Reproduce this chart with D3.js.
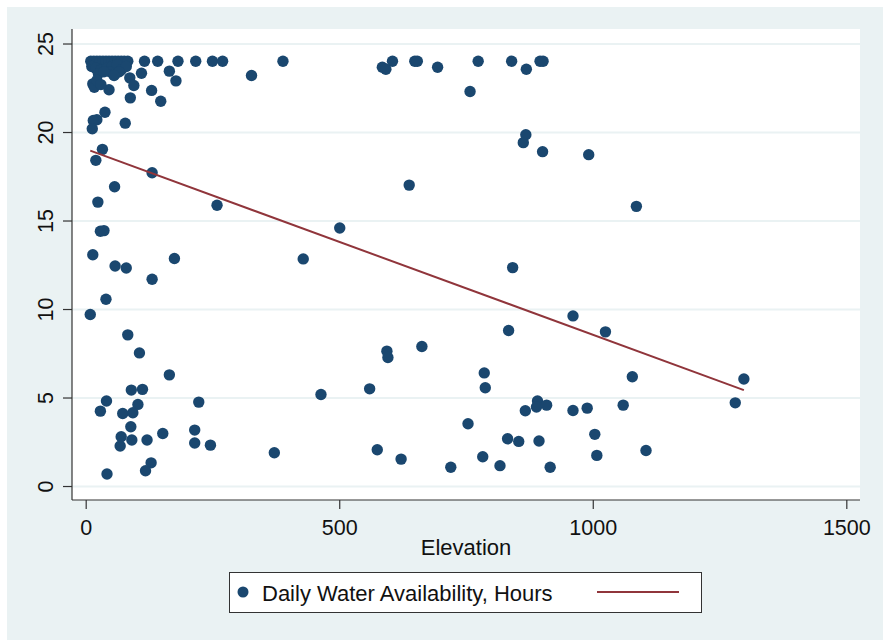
<!DOCTYPE html>
<html>
<head>
<meta charset="utf-8">
<script src="https://cdn.jsdelivr.net/npm/d3@7"></script>
<style>
  html, body { margin: 0; padding: 0; background: #fff; }
  svg { display: block; }
</style>
</head>
<body>
<div id="chart"></div>
<script>
// Elevation (x) and daily water availability in hours (y)
const elevation = [
  10, 16, 22, 28, 34, 40, 46, 52, 58, 64, 70, 76, 83,
  12, 20, 30, 42, 52, 62, 70, 80, 25, 48, 58, 66, 36,
  116, 142, 182, 217, 250, 270, 389, 605, 649, 654, 774, 840, 896, 902,
  585, 592, 694, 758, 869, 868, 863, 901, 992, 638, 1086, 501, 429, 842,
  961, 834, 1025, 594, 596, 663, 786, 788, 1078, 1298, 464, 560,
  867, 891, 889, 909, 961, 989, 1060, 1281, 754, 832, 854, 894, 1004,
  575, 622, 720, 783, 817, 916, 1008, 1105, 372,
  327, 165, 178, 110, 87, 95, 130, 148, 88, 46, 56, 14, 17, 22, 30,
  38, 22, 15, 13, 78, 33, 20, 131, 57, 24, 29, 36, 14, 58, 80, 175,
  131, 40, 9, 259, 83, 106, 165, 90, 112, 41, 29, 103, 73, 93, 89,
  70, 68, 91, 121, 152, 223, 215, 215, 246, 129, 118, 42
];
const hours = [
  24, 24, 24, 24, 24, 24, 24, 24, 24, 24, 24, 24, 24,
  23.7, 23.6, 23.5, 23.6, 23.7, 23.8, 23.5, 23.7, 23.3, 23.4, 23.3, 23.4, 23.4,
  24, 24, 24, 24, 24, 24, 24, 24, 24, 24, 24, 24, 24, 24,
  23.66, 23.55, 23.66, 22.29, 23.55, 19.85, 19.4, 18.89, 18.72, 17.0, 15.8, 14.58, 12.83, 12.34,
  9.61, 8.79, 8.71, 7.62, 7.26, 7.88, 6.39, 5.55, 6.17, 6.05, 5.17, 5.49,
  4.25, 4.8, 4.46, 4.57, 4.27, 4.4, 4.57, 4.7, 3.52, 2.67, 2.52, 2.54, 2.92,
  2.05, 1.52, 1.06, 1.65, 1.15, 1.06, 1.73, 2.01, 1.88,
  23.19, 23.44, 22.89, 23.32, 23.06, 22.63, 22.35, 21.74, 21.93, 22.39, 23.19, 22.72, 22.53, 22.91, 22.68,
  21.12, 20.69, 20.65, 20.18, 20.5, 19.02, 18.4, 17.7, 16.91, 16.04, 14.39, 14.43, 13.07, 12.43, 12.32, 12.85,
  11.68, 10.55, 9.69, 15.86, 8.54, 7.52, 6.28, 5.42, 5.46, 4.8, 4.23, 4.61, 4.1, 4.14, 3.35,
  2.78, 2.26, 2.6, 2.6, 2.97, 4.74, 3.16, 2.43, 2.31, 1.31, 0.86, 0.68
];

// Fitted line end points as drawn
const fitElevation = [9, 1298];
const fitHours = [18.95, 5.42];

const xTicks = [0, 500, 1000, 1500];
const yTicks = [0, 5, 10, 15, 20, 25];
const xTitle = 'Elevation';
const legendLabel = 'Daily Water Availability, Hours';

const width = 888;
const height = 641;
const plot = { left: 72, right: 860, top: 29, bottom: 500 };
const bg = '#eaf2f3';
const dotColor = '#1a476f';
const lineColor = '#90353b';
const font = "'Liberation Sans', Arial, sans-serif";

const x = d3.scaleLinear().domain([-27, 1527]).range([plot.left, plot.right]);
const y = d3.scaleLinear().domain([-0.79, 25.82]).range([plot.bottom, plot.top]);

const svg = d3.select('#chart').append('svg')
  .attr('width', width)
  .attr('height', height)
  .style('font-family', font);

// outer graph region
svg.append('rect')
  .attr('x', 7).attr('y', 7)
  .attr('width', 876).attr('height', 633)
  .attr('fill', bg);

// plot region
svg.append('rect')
  .attr('x', plot.left).attr('y', plot.top)
  .attr('width', plot.right - plot.left).attr('height', plot.bottom - plot.top)
  .attr('fill', '#fff');

// Gridlines
svg.append('g')
  .attr('transform', `translate(${plot.left},0)`)
  .call(d3.axisLeft(y).tickValues(yTicks).tickSize(-(plot.right - plot.left)).tickFormat(''))
  .call(g => g.select('.domain').remove())
  .call(g => g.selectAll('.tick line')
    .attr('stroke', bg)
    .attr('stroke-width', 2));

// Y axis
svg.append('g')
  .attr('transform', `translate(${plot.left},0)`)
  .call(d3.axisLeft(y).tickValues(yTicks).tickSize(9).tickSizeOuter(0))
  .call(g => g.select('.domain').attr('stroke', '#333').attr('stroke-width', 1.2)
    .attr('d', `M0,${plot.top}V${plot.bottom}`))
  .call(g => g.selectAll('.tick line').attr('stroke', '#333').attr('stroke-width', 1.2))
  .call(g => g.selectAll('.tick text')
    .attr('x', 0).attr('y', 0).attr('dy', 0)
    .attr('transform', 'translate(-19,0) rotate(-90)')
    .attr('text-anchor', 'middle')
    .attr('fill', '#111')
    .attr('font-size', '21.5px')
    .attr('font-family', font));

// X axis
svg.append('g')
  .attr('transform', `translate(0,${plot.bottom})`)
  .call(d3.axisBottom(x).tickValues(xTicks).tickSize(9).tickSizeOuter(0).tickFormat(d3.format('d')))
  .call(g => g.select('.domain').attr('stroke', '#333').attr('stroke-width', 1.2)
    .attr('d', `M${plot.left},0H${plot.right}`))
  .call(g => g.selectAll('.tick line').attr('stroke', '#333').attr('stroke-width', 1.2))
  .call(g => g.selectAll('.tick text')
    .attr('y', 34.5).attr('dy', 0)
    .attr('fill', '#111')
    .attr('font-size', '21.5px')
    .attr('font-family', font));

svg.append('text')
  .attr('x', (plot.left + plot.right) / 2)
  .attr('y', 555)
  .attr('text-anchor', 'middle')
  .attr('font-size', '22px')
  .attr('fill', '#111')
  .text(xTitle);

// Points
const points = elevation.map((e, i) => ({ e, h: hours[i] }));
svg.append('g')
  .selectAll('circle')
  .data(points)
  .join('circle')
  .attr('cx', d => x(d.e))
  .attr('cy', d => y(d.h))
  .attr('r', 5.7)
  .attr('fill', dotColor);

// Fitted line
const fit = fitElevation.map((e, i) => ({ e, h: fitHours[i] }));
svg.append('path')
  .datum(fit)
  .attr('fill', 'none')
  .attr('stroke', lineColor)
  .attr('stroke-width', 2)
  .attr('d', d3.line().x(d => x(d.e)).y(d => y(d.h)));

// Legend
const legend = svg.append('g');
legend.append('rect')
  .attr('x', 229.5).attr('y', 572.5)
  .attr('width', 472).attr('height', 40)
  .attr('fill', '#fff')
  .attr('stroke', '#333')
  .attr('stroke-width', 1);
legend.append('circle')
  .attr('cx', 243).attr('cy', 592)
  .attr('r', 5.5)
  .attr('fill', dotColor);
legend.append('text')
  .attr('x', 262).attr('y', 600.5)
  .attr('font-size', '22px')
  .attr('fill', '#111')
  .text(legendLabel);
legend.append('line')
  .attr('x1', 597).attr('x2', 679)
  .attr('y1', 592).attr('y2', 592)
  .attr('stroke', lineColor)
  .attr('stroke-width', 2);
</script>
</body>
</html>
